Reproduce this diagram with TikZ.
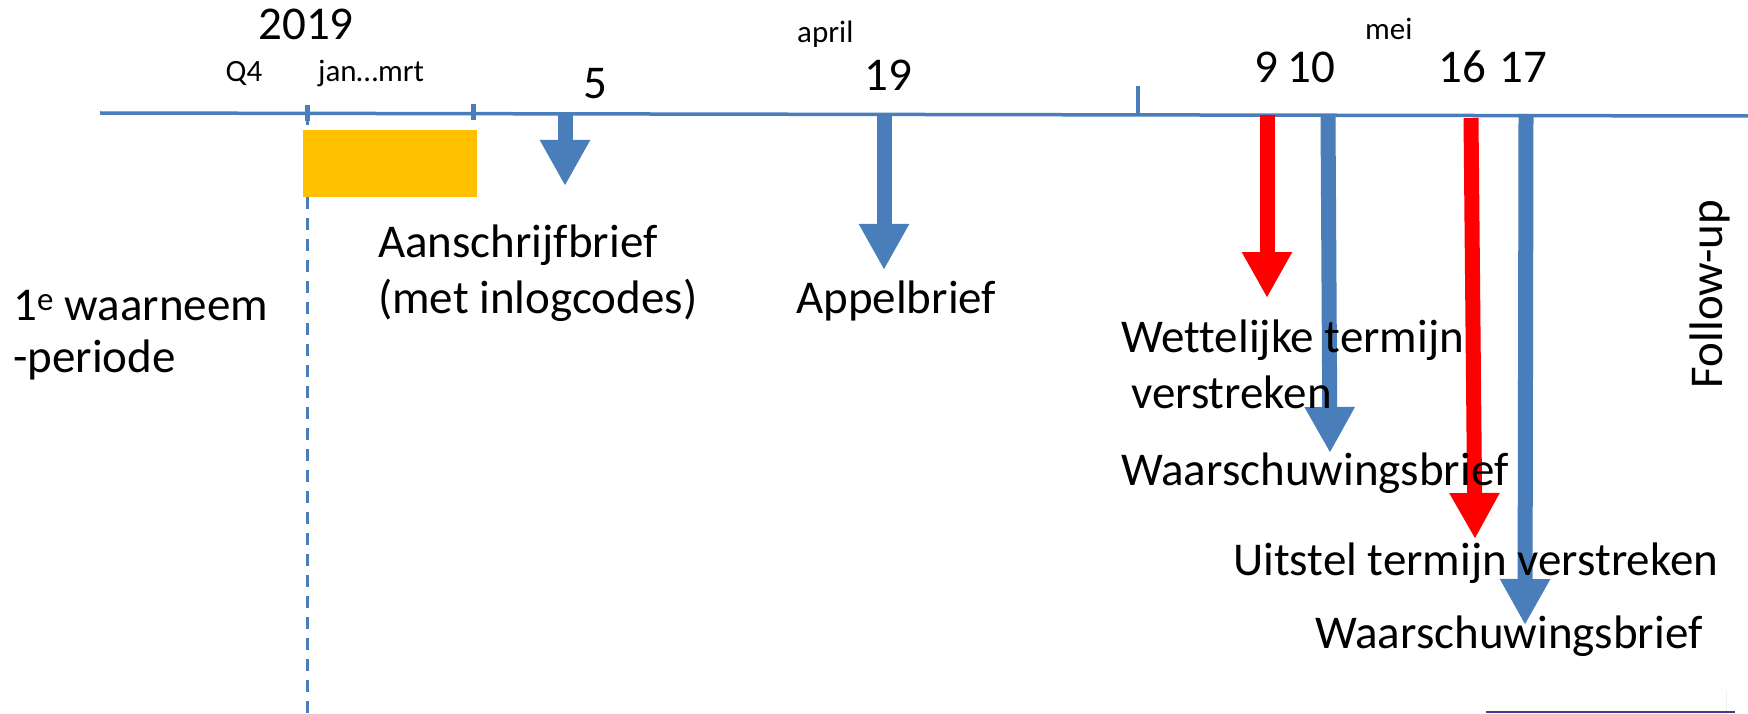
\documentclass[tikz,border=0pt]{standalone}
\usepackage{fontspec}
\setmainfont{Carlito}[Ligatures=NoCommon]
\usetikzlibrary{arrows.meta}

\definecolor{tlblue}{HTML}{4A7EBB}
\definecolor{tlred}{HTML}{FF0000}
\definecolor{tlyellow}{HTML}{FFC000}
\definecolor{tlnavy}{HTML}{403E84}

\newcommand{\bigtxt}{\fontsize{47}{56}\selectfont}
\newcommand{\smalltxt}{\fontsize{31}{37}\selectfont}

\tikzset{
    lbl/.style={inner sep=0pt, anchor=base west, font=\bigtxt},
    num/.style={inner sep=0pt, anchor=base, font=\bigtxt},
    small/.style={inner sep=0pt, anchor=base west, font=\smalltxt},
    blockarrow/.style={line width=15pt, -{Triangle[width=47pt,length=46pt]}}
}

\begin{document}
\begin{tikzpicture}[x=1pt,y=-1pt]
    \useasboundingbox (0,0) rectangle (1748,714);

    % time line with ticks
    \coordinate (tlstart) at (100,113);
    \coordinate (tlend) at (1748,116);
    \draw[tlblue, line width=3.5pt] (tlstart) -- (tlend);
    \draw[tlblue, line width=5pt] (307,105) -- (307,121);
    \draw[tlblue, line width=5pt] (473,104) -- (473,120);
    \draw[tlblue, line width=4pt] (1138,86) -- (1138,114);
    \draw[tlblue, line width=3pt, dash pattern=on 12pt off 9pt] (307,113) -- (307,714);

    \fill[tlyellow] (303,130) rectangle (477,197);

    % arrows
    \coordinate (a5top) at (565,114);   \coordinate (a5tip) at (565,186);
    \coordinate (a19top) at (884,114);  \coordinate (a19tip) at (884,270);
    \coordinate (r9top) at (1267,115);  \coordinate (r9tip) at (1267,298);
    \coordinate (b10top) at (1328,117); \coordinate (b10tip) at (1330,453);
    \coordinate (r16top) at (1471,118); \coordinate (r16tip) at (1475,539);
    \coordinate (b17top) at (1526,114); \coordinate (b17tip) at (1525,625);
    \draw[blockarrow, tlblue] (a5top) -- (a5tip);
    \draw[blockarrow, tlblue] (a19top) -- (a19tip);
    \draw[blockarrow, tlred] (r9top) -- (r9tip);
    \draw[blockarrow, tlblue] (b10top) -- (b10tip);
    \draw[blockarrow, tlred] (r16top) -- (r16tip);
    \draw[blockarrow, tlblue] (b17top) -- (b17tip);

    % dates
    \node[num] (y2019) at (306,40) {2019};
    \node[small, anchor=base] (q4) at (244,82) {Q4};
    \node[small] (janmrt) at (318,82) {jan…mrt};
    \node[num] (d5) at (595,99) {5};
    \node[small] (april) at (797,43) {april};
    \node[num] (d19) at (888,91) {19};
    \node[num] (d9) at (1266,83) {9};
    \node[num] (d10) at (1311,83) {10};
    \node[small] (mei) at (1365,40) {mei};
    \node[num] (d16) at (1462,83) {16};
    \node[num] (d17) at (1523,83) {17};

    % labels
    \node[lbl] (waarn) at (13,320) {1\textsuperscript{e} waarneem};
    \node[lbl] (periode) at (13,372) {-periode};
    \node[lbl] (aanschr) at (378,257) {Aanschrijfbrief};
    \node[lbl] (inlog) at (378,313) {(met inlogcodes)};
    \node[lbl] (appel) at (796,313) {Appelbrief};
    \node[lbl] (wettel) at (1121,352) {Wettelijke termijn};
    \node[lbl] (verstr) at (1131,408) {verstreken};
    \node[lbl] (waarsch1) at (1121,485) {Waarschuwingsbrief};
    \node[lbl] (uitstel) at (1233,575) {Uitstel termijn verstreken};
    \node[lbl] (waarsch2) at (1315,648) {Waarschuwingsbrief};
    \node[num, rotate=90] (follow) at (1722,294) {Follow-up};

    \draw[gray!12, line width=1pt] (1726,690) -- (1726,712);
    \draw[tlnavy, line width=2.5pt] (1486,712) -- (1735,712);
\end{tikzpicture}
\end{document}
